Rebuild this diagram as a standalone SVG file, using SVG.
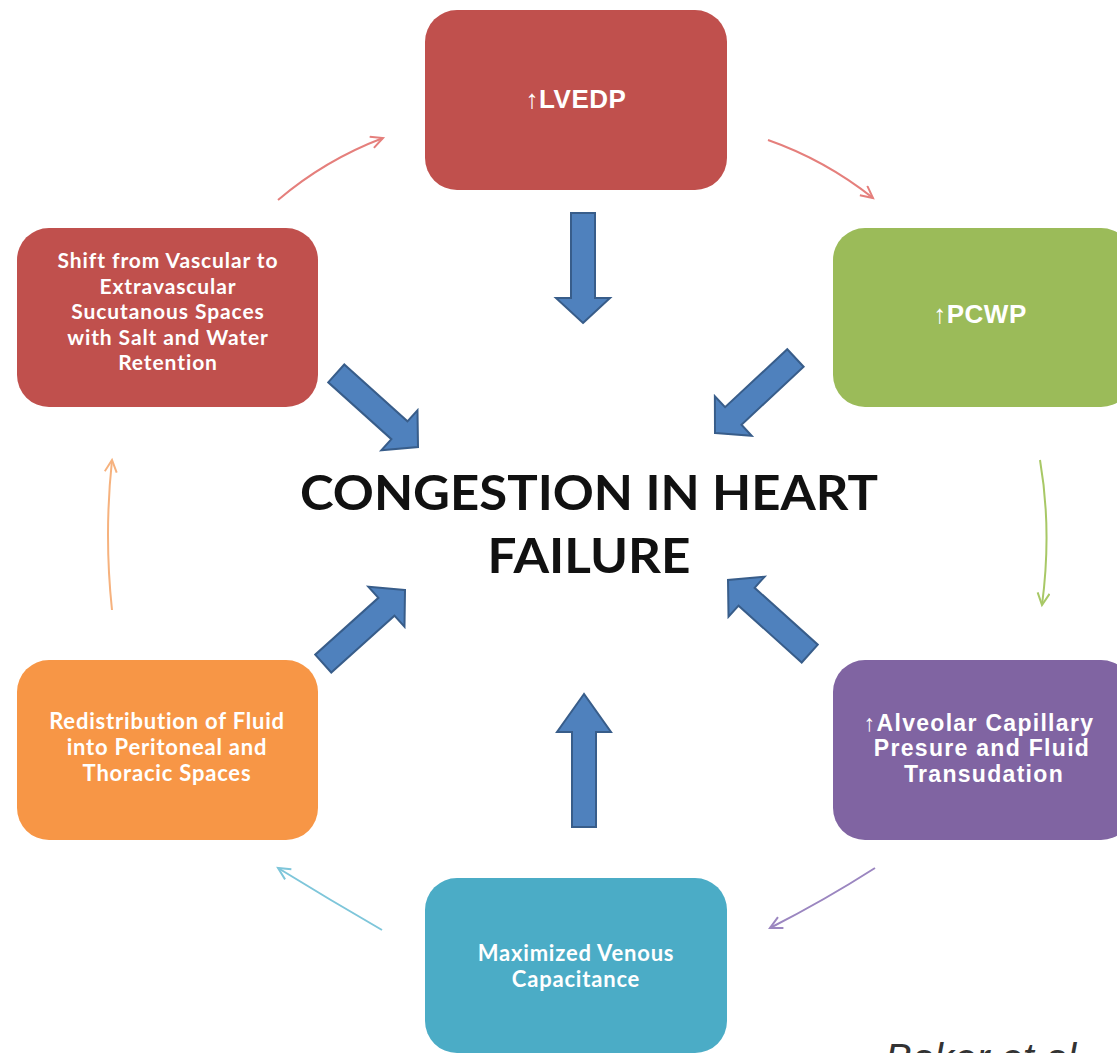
<svg xmlns="http://www.w3.org/2000/svg" width="1117" height="1053" viewBox="0 0 1117 1053">
<defs>
<style>
.box{stroke:none}
.t1{font-family:"Liberation Sans",Arial,sans-serif;font-weight:bold;fill:#fff;text-anchor:middle}
.t2{font-family:Lato,"Open Sans",sans-serif;font-weight:bold;fill:#fff;text-anchor:middle;font-size:22px;letter-spacing:0.8px}
.t3{font-size:21px;letter-spacing:0.9px}
.title{font-family:Lato,"Open Sans",sans-serif;font-weight:bold;fill:#111;text-anchor:middle;font-size:48px}
.blk{fill:#4F81BD;stroke:#385D8A;stroke-width:2}
.con{fill:none;stroke-width:2}
</style>
<path id="arr" d="M0,0 L-25,-27 L-25,-12 L-110,-12 L-110,12 L-25,12 L-25,27 Z"/>
<path id="arrL" d="M0,0 L-38,-27 L-38,-12 L-133,-12 L-133,12 L-38,12 L-38,27 Z"/>
<marker id="mR" markerUnits="userSpaceOnUse" markerWidth="20" markerHeight="20" refX="13" refY="7" orient="auto"><path d="M1,1 L13,7 L1,13" fill="none" stroke="#E57F7C" stroke-width="2"/></marker>
<marker id="mG" markerUnits="userSpaceOnUse" markerWidth="20" markerHeight="20" refX="13" refY="7" orient="auto"><path d="M1,1 L13,7 L1,13" fill="none" stroke="#A8C866" stroke-width="2"/></marker>
<marker id="mP" markerUnits="userSpaceOnUse" markerWidth="20" markerHeight="20" refX="13" refY="7" orient="auto"><path d="M1,1 L13,7 L1,13" fill="none" stroke="#9B86C0" stroke-width="2"/></marker>
<marker id="mC" markerUnits="userSpaceOnUse" markerWidth="20" markerHeight="20" refX="13" refY="7" orient="auto"><path d="M1,1 L13,7 L1,13" fill="none" stroke="#7EC6DA" stroke-width="2"/></marker>
<marker id="mO" markerUnits="userSpaceOnUse" markerWidth="20" markerHeight="20" refX="13" refY="7" orient="auto"><path d="M1,1 L13,7 L1,13" fill="none" stroke="#F6B27E" stroke-width="2"/></marker>
</defs>
<rect width="1117" height="1053" fill="#fff"/>

<g id="connectors">
<path class="con" stroke="#E57F7C" d="M278,200 Q325,160 383,138" marker-end="url(#mR)"/>
<path class="con" stroke="#E57F7C" d="M768,140 Q825,160 873,198" marker-end="url(#mR)"/>
<path class="con" stroke="#A8C866" d="M1040,460 Q1052,530 1042,605" marker-end="url(#mG)"/>
<path class="con" stroke="#9B86C0" d="M875,868 Q825,900 770,928" marker-end="url(#mP)"/>
<path class="con" stroke="#7EC6DA" d="M382,930 Q330,900 278,868" marker-end="url(#mC)"/>
<path class="con" stroke="#F6B27E" d="M112,610 Q104,535 112,460" marker-end="url(#mO)"/>
<use href="#arr" class="blk" transform="translate(583,323) rotate(90)"/>
<use href="#arrL" class="blk" transform="translate(584,694) rotate(-90)"/>
<use href="#arr" class="blk" transform="translate(418,447) rotate(42)"/>
<use href="#arr" class="blk" transform="translate(715,433) rotate(137)"/>
<use href="#arr" class="blk" transform="translate(405,590) rotate(-42)"/>
<use href="#arr" class="blk" transform="translate(728,580) rotate(-138)"/>
</g>

<g id="node-lvedp">
<rect class="box" x="425" y="10" width="302" height="180" rx="32" fill="#C0504D"/>
<text class="t1" x="576" y="108" font-size="26" letter-spacing="0.5">↑LVEDP</text>
</g>
<g id="node-pcwp">
<rect class="box" x="833" y="228" width="300" height="179" rx="32" fill="#9BBB59"/>
<text class="t1" x="980" y="323" font-size="26" letter-spacing="0.5">↑PCWP</text>
</g>
<g id="node-alveolar">
<rect class="box" x="833" y="660" width="300" height="180" rx="32" fill="#8064A2"/>
<text class="t1" x="979" y="731" font-size="23" letter-spacing="1.3">↑Alveolar Capillary</text>
<text class="t1" x="982" y="756" font-size="23" letter-spacing="1.3">Presure and Fluid</text>
<text class="t1" x="984" y="782" font-size="23" letter-spacing="1.3">Transudation</text>
</g>
<g id="node-venous">
<rect class="box" x="425" y="878" width="302" height="175" rx="32" fill="#4BACC6"/>
<text class="t2" x="576" y="961">Maximized Venous</text>
<text class="t2" x="576" y="987">Capacitance</text>
</g>
<g id="node-redistribution">
<rect class="box" x="17" y="660" width="301" height="180" rx="32" fill="#F79646"/>
<text class="t2" x="167" y="729">Redistribution of Fluid</text>
<text class="t2" x="167" y="755">into Peritoneal and</text>
<text class="t2" x="167" y="781">Thoracic Spaces</text>
</g>
<g id="node-shift">
<rect class="box" x="17" y="228" width="301" height="179" rx="32" fill="#C0504D"/>
<text class="t2 t3" x="168" y="268">Shift from Vascular to</text>
<text class="t2 t3" x="168" y="293.5">Extravascular</text>
<text class="t2 t3" x="168" y="319">Sucutanous  Spaces</text>
<text class="t2 t3" x="168" y="344.5">with Salt and Water</text>
<text class="t2 t3" x="168" y="370">Retention</text>
</g>
<g id="node-center">
<text class="title" x="589" y="510" textLength="578" lengthAdjust="spacingAndGlyphs">CONGESTION IN HEART</text>
<text class="title" x="589" y="573" textLength="203" lengthAdjust="spacingAndGlyphs">FAILURE</text>
</g>
<text x="885" y="1072" font-family="Liberation Sans,Arial,sans-serif" font-style="italic" font-size="40" fill="#333">Baker et al.</text>
</svg>
